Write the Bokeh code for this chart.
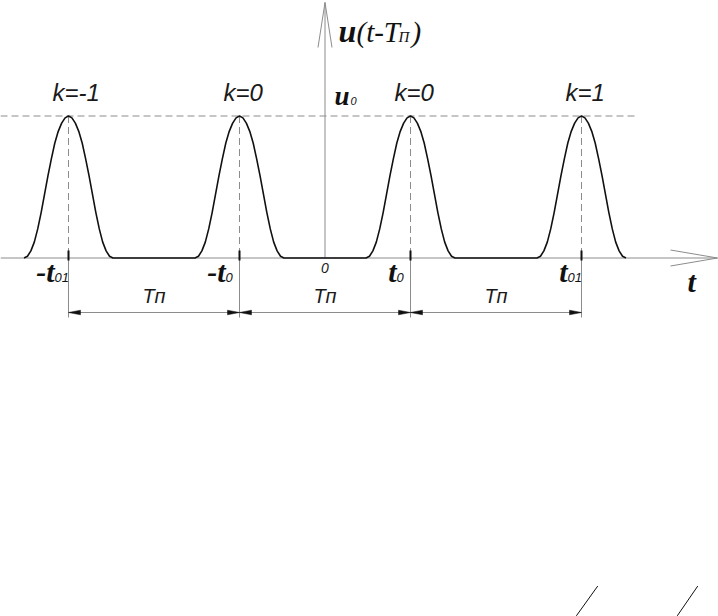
from bokeh.plotting import figure
from bokeh.models import Range1d
from bokeh.core.properties import value
from bokeh.embed import file_html
from bokeh.resources import INLINE

# ---------------- data ----------------
peaks = [-3.0, -1.0, 1.0, 3.0]            # -t01, -t0, t0, t01  (units of t0)
peak_labels = ["k=-1", "k=0", "k=0", "k=1"]
time_main = ["-t", "-t", "t", "t"]
time_subs = ["01", "0", "0", "01"]
u0 = 1.0
# one pulse, half profile: offset from the peak (units of t0) -> height / u0
pulse_offsets = [0.00, 0.04, 0.08, 0.12, 0.16, 0.20, 0.24, 0.28, 0.32, 0.36, 0.40, 0.44, 0.48, 0.52]
pulse_shape = [1.000, 0.987, 0.950, 0.892, 0.810, 0.700, 0.580, 0.450, 0.320, 0.205, 0.112, 0.050, 0.012, 0.000]
period_label = "T\u043f"
origin_label = "0"
t_axis_label = "t"
u_axis_parts = ["u", "(t-T", "\u041f", ")"]
u0_parts = ["u", "0"]
corner_strokes_x = [[2.94, 3.19], [4.12, 4.36]]
corner_strokes_y = [[-2.52, -2.31], [-2.52, -2.31]]

# ---------------- scale helpers ----------------
W, H = 718, 616
OX, OY = 324.5, 257.5      # pixel position of the origin
SX, SY = 85.5, 142.0       # pixels per unit


def ux(px):
    return (px - OX) / SX


def uy(py):
    return (OY - py) / SY


def dx(px):
    return px / SX


def dy(py):
    return py / SY


def base(py, size):
    # text anchor so that the alphabetic baseline lands on pixel row py
    return uy(py - 0.37 * size)


p = figure(width=W, height=H, x_range=Range1d(ux(0), ux(W)), y_range=Range1d(uy(H), uy(0)),
           output_backend="svg", toolbar_location=None, min_border=0,
           x_axis_type=None, y_axis_type=None)
p.grid.visible = False
p.outline_line_color = None
p.background_fill_color = "white"
p.border_fill_color = "white"

AX = "#8c8c8c"
INK = "#111111"
TXT = "#1a1a1a"

# ---------------- axes ----------------
t_tip = ux(717)
p.line([ux(0), t_tip], [0, 0], line_color=AX, line_width=1)
p.line([t_tip - dx(47), t_tip, t_tip - dx(47)], [dy(8), 0, -dy(8)], line_color=AX, line_width=1)
u_tip = uy(2)
p.line([0, 0], [0, u_tip], line_color=AX, line_width=1)
p.line([-dx(7), 0, dx(7)], [u_tip - dy(45), u_tip, u_tip - dy(45)], line_color=AX, line_width=1)

# u0 level
p.line([ux(0), ux(638)], [u0, u0], line_color=AX, line_width=1, line_dash="7 4")
# dashed verticals from the peaks
p.segment(x0=peaks, y0=[u0] * 4, x1=peaks, y1=[0] * 4, line_color=AX, line_width=1, line_dash="7 4")

# ---------------- pulse train ----------------
xs, ys = [], []
for pk in peaks:
    for off, h in zip(reversed(pulse_offsets), reversed(pulse_shape)):
        xs.append(pk - off)
        ys.append(u0 * h)
    for off, h in zip(pulse_offsets[1:], pulse_shape[1:]):
        xs.append(pk + off)
        ys.append(u0 * h)
p.line(xs, ys, line_color=INK, line_width=1.6, line_join="round")

# ---------------- dimension lines ----------------
ext_bottom = uy(317)
dim_y = uy(312)
p.segment(x0=peaks, y0=[0] * 4, x1=peaks, y1=[ext_bottom] * 4, line_color=AX, line_width=1)
p.segment(x0=peaks, y0=[dy(7.5)] * 4, x1=peaks, y1=[-dy(2.5)] * 4, line_color=INK, line_width=2)
p.line([peaks[0], peaks[-1]], [dim_y, dim_y], line_color=AX, line_width=1)
L, HW = dx(12), dy(2.3)
ax_, ay_ = [], []
for a, b in zip(peaks[:-1], peaks[1:]):
    ax_.append([a, a + L, a + L]); ay_.append([dim_y, dim_y + HW, dim_y - HW])
    ax_.append([b, b - L, b - L]); ay_.append([dim_y, dim_y + HW, dim_y - HW])
p.patches(ax_, ay_, fill_color=INK, line_color=INK, line_width=0.5)

mids = [(a + b) / 2 for a, b in zip(peaks[:-1], peaks[1:])]
SANS = value("Liberation Sans")
SERIF = value("Liberation Serif")


def txt(xv, yv, tv, font, size, style, align, color):
    p.text(x=xv, y=yv, text=tv, text_font=font, text_font_size=value(f"{size}px"),
           text_font_style=value(style), text_align=align, text_baseline="alphabetic",
           text_color=color)


txt(mids, [base(303, 20)] * 3, [period_label] * 3, SANS, 20, "italic", "center", TXT)

# ---------------- labels ----------------
txt([pk - dx(16) for pk in peaks], [base(101, 24)] * 4, peak_labels, SANS, 24, "italic", "left", TXT)

txt([pk - dx(14) for pk in peaks], [base(282, 30)] * 4, time_main, SERIF, 30, "bold italic", "right", INK)
txt([pk - dx(14) for pk in peaks], [base(282, 13)] * 4, time_subs, SANS, 13, "italic", "left", INK)

txt([0], [base(273, 14)], [origin_label], SANS, 14, "italic", "center", TXT)

txt([ux(687)], [base(292, 30)], [t_axis_label], SERIF, 30, "bold italic", "left", INK)

# u0
txt([ux(334)], [base(105, 27)], [u0_parts[0]], SERIF, 27, "bold italic", "left", INK)
txt([ux(350)], [base(105, 11)], [u0_parts[1]], SANS, 11, "italic", "left", INK)

# u(t-Tп)
txt([ux(338)], [base(42, 32)], [u_axis_parts[0]], SERIF, 32, "bold italic", "left", INK)
txt([ux(356)], [base(42, 29)], [u_axis_parts[1]], SERIF, 29, "italic", "left", INK)
txt([ux(398)], [base(42, 15)], [u_axis_parts[2]], SERIF, 15, "italic", "left", INK)
txt([ux(411)], [base(42, 29)], [u_axis_parts[3]], SERIF, 29, "italic", "left", INK)

# strokes at the bottom right
p.multi_line(corner_strokes_x, corner_strokes_y, line_color=INK, line_width=1)

open("out.html", "w").write(file_html(p, INLINE))
